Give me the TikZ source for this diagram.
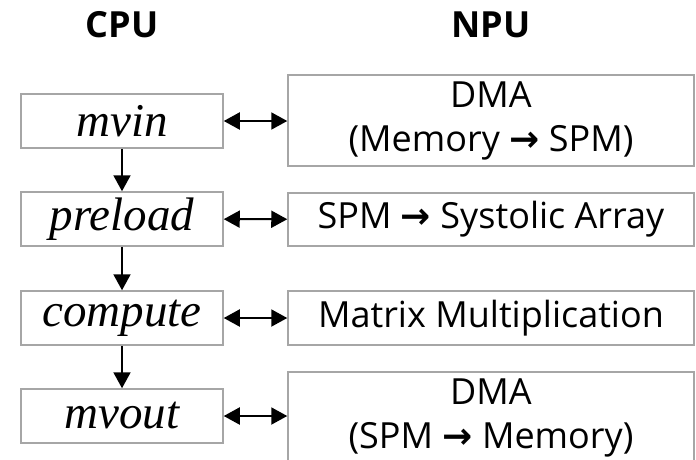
\documentclass[tikz,border=0pt]{standalone}
\usepackage{fontspec}
\setmainfont{Liberation Serif}
\setsansfont{Open Sans}
\newfontfamily\arrowfont{DejaVu Sans}
\newcommand{\toarrow}{{\arrowfont\bfseries →}}
\usetikzlibrary{arrows.meta, positioning}

\begin{document}
\begin{tikzpicture}[x=1pt,y=-1pt,>={Triangle[length=16pt,width=17pt]},line width=2pt,
cpu/.style={draw=black!35,line width=1.5pt,minimum width=202pt,minimum height=54pt,inner sep=0pt,font=\fontsize{47}{50}\selectfont\itshape},
npu/.style={draw=black!35,line width=1.5pt,minimum width=406pt,inner sep=0pt,align=center,font=\sffamily\fontsize{36}{44}\selectfont},
head/.style={font=\sffamily\bfseries\fontsize{36}{40}\selectfont}]
\useasboundingbox (0,0) rectangle (696,459);
\node[head] (cpuh) at (122,25) {CPU};
\node[head] (npuh) at (491,25) {NPU};
% CPU side
\node[cpu] (mvin) at (122,121) {mvin};
\node[cpu] (pre) at (122,219) {preload};
\node[cpu] (comp) at (122,318) {compute};
\node[cpu] (mvout) at (122,416) {mvout};
% NPU side
\node[npu,minimum height=91pt] (dma1) at (491,120.5) {DMA\\(Memory \toarrow{} SPM)};
\node[npu,minimum height=53pt] (spm) at (491,219.5) {SPM \toarrow{} Systolic Array};
\node[npu,minimum height=54pt] (mm) at (491,318) {Matrix Multiplication};
\node[npu,minimum height=91pt] (dma2) at (491,417.5) {DMA\\(SPM \toarrow{} Memory)};
\draw[->] (mvin) -- (pre);
\draw[->] (pre) -- (comp);
\draw[->] (comp) -- (mvout);
\draw[<->] (mvin) -- (mvin -| dma1.west);
\draw[<->] (pre) -- (spm);
\draw[<->] (comp) -- (mm);
\draw[<->] (mvout) -- (mvout -| dma2.west);
\end{tikzpicture}
\end{document}
